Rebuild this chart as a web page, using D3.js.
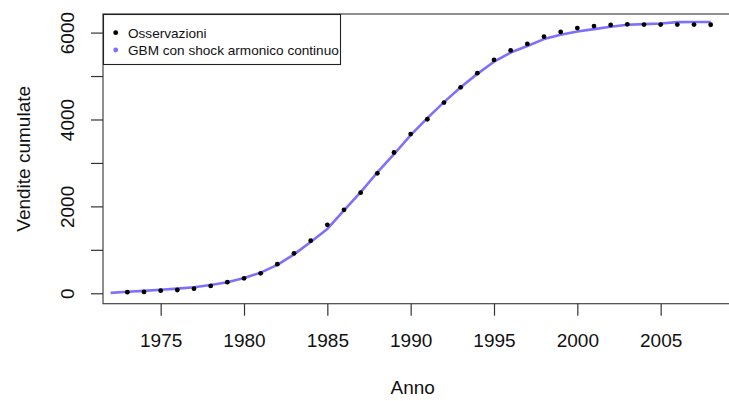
<!DOCTYPE html>
<html><head><meta charset="utf-8">
<script src="https://cdn.jsdelivr.net/npm/d3@7"></script>
<style>body{margin:0;background:#fff}svg{display:block}text{font-family:"Liberation Sans",Arial,sans-serif}</style>
</head><body>
<script>
const obsYears = [1973,1974,1975,1976,1977,1978,1979,1980,1981,1982,1983,1984,1985,1986,1987,1988,1989,1990,1991,1992,1993,1994,1995,1996,1997,1998,1999,2000,2001,2002,2003,2004,2005,2006,2007,2008];
const obsValues = [25,30,60,75,105,170,255,345,460,670,920,1210,1575,1920,2315,2760,3240,3665,4005,4390,4740,5065,5370,5590,5740,5905,6015,6105,6150,6175,6190,6185,6185,6185,6185,6180];
const fitYears = [1972,1973,1974,1975,1976,1977,1978,1979,1980,1981,1982,1983,1984,1985,1986,1987,1988,1989,1990,1991,1992,1993,1994,1995,1996,1997,1998,1999,2000,2001,2002,2003,2004,2005,2006,2007,2008];
const fitValues = [10,35,55,80,108,140,190,255,350,475,655,895,1180,1480,1910,2330,2780,3200,3640,4030,4400,4740,5050,5330,5540,5690,5850,5950,6025,6080,6135,6180,6195,6210,6240,6245,6245];
const xTicks = [1975,1980,1985,1990,1995,2000,2005];
const yTicks = [0,1000,2000,3000,4000,5000,6000];
const yLabels = [0,2000,4000,6000];
const legendLabels = ["Osservazioni","GBM con shock armonico continuo"];
const lineColor = "#7f6fff";

const W=729,H=401;
const svg=d3.select("body").append("svg").attr("width",W).attr("height",H);
const x=d3.scaleLinear().domain([1971.54,2009.04]).range([103,728]);
const y=d3.scaleLinear().domain([-240,6428]).range([303.7,14]);

svg.append("path").datum(fitYears.map((d,i)=>[d,fitValues[i]]))
  .attr("fill","none").attr("stroke",lineColor).attr("stroke-width",2.6)
  .attr("stroke-linejoin","round")
  .attr("d",d3.line().x(d=>x(d[0])).y(d=>y(d[1])));

svg.append("g").selectAll("circle").data(obsYears.map((d,i)=>[d,obsValues[i]])).join("circle")
  .attr("cx",d=>x(d[0])).attr("cy",d=>y(d[1])).attr("r",2.4).attr("fill","#000");

svg.append("rect").attr("x",103).attr("y",14).attr("width",630).attr("height",289.7)
  .attr("fill","none").attr("stroke","#444").attr("stroke-width",1.2);

const xa=svg.append("g").attr("transform","translate(0,303.7)")
  .call(d3.axisBottom(x).tickValues(xTicks).tickSize(12).tickFormat(d3.format("d")));
xa.select(".domain").remove();
xa.selectAll("line").attr("stroke","#333").attr("stroke-width",1.2);
xa.selectAll("text").attr("font-size",19).attr("fill","#111").attr("y",null).attr("dy",null)
  .attr("transform","translate(0,43.5)");

const ya=svg.append("g").attr("transform","translate(103,0)")
  .call(d3.axisLeft(y).tickValues(yTicks).tickSize(12).tickFormat(d=>yLabels.includes(d)?String(d):""));
ya.select(".domain").remove();
ya.selectAll("line").attr("stroke","#333").attr("stroke-width",1.2);
ya.selectAll("text").attr("font-size",19).attr("fill","#111").attr("x",null).attr("dy",null)
  .attr("text-anchor","middle")
  .attr("transform","translate(-29,0) rotate(-90)").attr("y",0);

svg.append("text").attr("x",(x(1971.54)+x(2008.7))/2 ).attr("y",394).attr("text-anchor","middle")
  .attr("font-size",19).attr("fill","#111").text("Anno");
svg.append("text").attr("transform","translate(30,"+((14+303.7)/2)+") rotate(-90)")
  .attr("text-anchor","middle").attr("font-size",19).attr("fill","#111").text("Vendite cumulate");

const lg=svg.append("g");
lg.append("rect").attr("x",103.5).attr("y",14.5).attr("width",237).attr("height",50)
  .attr("fill","#fff").attr("stroke","#222").attr("stroke-width",1.1);
const lc=["#000",lineColor];
legendLabels.forEach((t,i)=>{
  const cy=32.7+i*17.3;
  lg.append("circle").attr("cx",115.7).attr("cy",cy).attr("r",2.4).attr("fill",lc[i]);
  lg.append("text").attr("x",128).attr("y",cy+4.8).attr("font-size",13.6).attr("fill","#111").text(t);
});
</script>
</body></html>
